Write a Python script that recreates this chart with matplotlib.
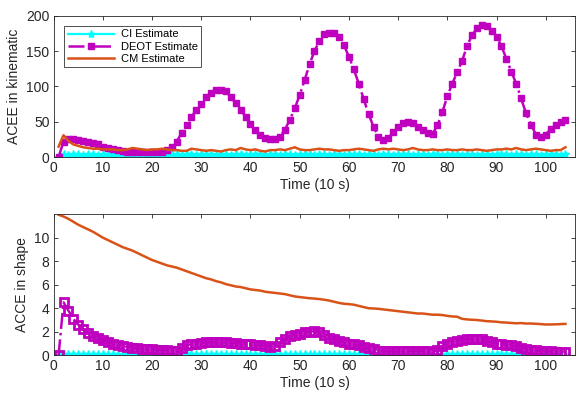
import numpy as np
import matplotlib
matplotlib.use("Agg")
import matplotlib.pyplot as plt

# time index (10 s steps)
t = np.arange(1, 105)

# --- ACEE in kinematic (top panel) ---
ci_kin = [0.5, 4, 3, 5, 4, 3, 4, 5, 3, 4, 4, 3, 5, 4, 3, 4, 5, 4, 3, 4,
          4, 5, 3, 4, 4, 3, 5, 4, 3, 4, 4, 5, 3, 4, 4, 3, 5, 4, 3, 4,
          4, 5, 3, 4, 4, 3, 5, 4, 3, 4, 4, 5, 3, 4, 4, 3, 5, 4, 3, 4,
          4, 5, 3, 4, 4, 3, 5, 4, 3, 4, 4, 5, 3, 4, 4, 3, 5, 4, 3, 4,
          4, 5, 3, 4, 4, 3, 5, 4, 3, 4, 4, 5, 3, 4, 4, 3, 5, 4, 3, 4,
          4, 5, 3, 4]
deot_kin = [0, 22, 25, 25, 24, 23, 22, 20, 18, 15, 13, 11, 10, 9, 8, 8, 7, 7, 7, 7,
            7, 8, 10, 14, 22, 34, 45, 57, 67, 75, 85, 91, 95, 95, 93, 85, 76, 67, 57, 47,
            39, 31, 27, 25, 25, 29, 39, 53, 69, 88, 109, 131, 150, 164, 174, 176, 176, 170, 158, 142,
            124, 104, 82, 61, 43, 29, 24, 27, 35, 42, 48, 50, 48, 43, 38, 34, 33, 45, 64, 86,
            104, 120, 136, 157, 172, 182, 187, 185, 179, 170, 157, 139, 121, 104, 83, 62, 46, 32, 28, 32,
            40, 45, 50, 52]
cm_kin = [15, 31, 23, 18, 16, 14, 13, 12, 12, 11, 11, 11, 10, 10, 11, 13, 12, 11, 10, 11,
          11, 12, 11, 10, 10, 9, 9, 12, 11, 10, 9, 10, 9, 8, 10, 11, 10, 13, 11, 10,
          11, 9, 8, 10, 10, 11, 10, 12, 14, 11, 10, 10, 11, 12, 11, 11, 10, 9, 10, 10,
          11, 12, 11, 10, 9, 11, 12, 11, 12, 11, 10, 11, 13, 11, 10, 10, 11, 10, 10, 11,
          10, 10, 11, 10, 10, 11, 10, 9, 10, 11, 11, 12, 11, 13, 11, 10, 11, 12, 11, 10,
          9, 10, 10, 14]

# --- ACCE in shape (bottom panel) ---
ci_shape = [0.02, 0.08, 0.07, 0.09, 0.08, 0.07, 0.08, 0.09, 0.07, 0.08, 0.08, 0.07, 0.09, 0.08, 0.07, 0.08, 0.09, 0.08, 0.07, 0.08,
            0.08, 0.09, 0.07, 0.08, 0.08, 0.07, 0.09, 0.08, 0.07, 0.08, 0.08, 0.09, 0.07, 0.08, 0.08, 0.07, 0.09, 0.08, 0.07, 0.08,
            0.08, 0.09, 0.07, 0.08, 0.08, 0.07, 0.09, 0.08, 0.07, 0.08, 0.08, 0.09, 0.07, 0.08, 0.08, 0.07, 0.09, 0.08, 0.07, 0.08,
            0.08, 0.09, 0.07, 0.08, 0.08, 0.07, 0.09, 0.08, 0.07, 0.08, 0.08, 0.09, 0.07, 0.08, 0.08, 0.07, 0.09, 0.08, 0.07, 0.08,
            0.08, 0.09, 0.07, 0.08, 0.08, 0.07, 0.09, 0.08, 0.07, 0.08, 0.08, 0.09, 0.07, 0.08, 0.08, 0.07, 0.09, 0.08, 0.07, 0.08,
            0.08, 0.09, 0.07, 0.08]
deot_shape = [0, 4.5, 3.8, 3.1, 2.6, 2.2, 1.9, 1.65, 1.45, 1.3, 1.15, 1.0, 0.9, 0.8, 0.72, 0.65, 0.6, 0.55, 0.52, 0.5,
              0.48, 0.46, 0.44, 0.4, 0.38, 0.6, 0.85, 0.95, 1.0, 1.05, 1.1, 1.1, 1.1, 1.1, 1.1, 1.05, 1.05, 1.0, 1.0, 0.95,
              0.9, 0.85, 0.8, 0.73, 0.8, 1.1, 1.4, 1.6, 1.75, 1.85, 1.95, 2.0, 2.05, 2.0, 1.7, 1.45, 1.35, 1.25, 1.1, 1.0,
              0.95, 0.85, 0.7, 0.6, 0.5, 0.4, 0.35, 0.35, 0.33, 0.33, 0.35, 0.36, 0.37, 0.38, 0.37, 0.33, 0.25, 0.45, 0.8, 1.0,
              1.12, 1.2, 1.3, 1.35, 1.4, 1.4, 1.35, 1.2, 1.1, 1.0, 0.95, 0.9, 0.85, 0.75, 0.65, 0.55, 0.48, 0.42, 0.38, 0.36,
              0.33, 0.32, 0.32, 0.32]
cm_shape = [11.95, 11.8, 11.6, 11.35, 11.1, 10.9, 10.7, 10.5, 10.25, 10.0, 9.8, 9.6, 9.4, 9.2, 9.05, 8.9, 8.7, 8.5, 8.3, 8.1,
            7.95, 7.8, 7.65, 7.55, 7.45, 7.3, 7.15, 7.0, 6.85, 6.7, 6.55, 6.45, 6.3, 6.2, 6.05, 5.95, 5.85, 5.8, 5.7, 5.6,
            5.55, 5.5, 5.4, 5.35, 5.3, 5.25, 5.2, 5.1, 5.0, 4.95, 4.9, 4.85, 4.82, 4.78, 4.72, 4.65, 4.55, 4.45, 4.38, 4.35,
            4.3, 4.2, 4.1, 4.0, 3.98, 3.95, 3.9, 3.85, 3.8, 3.75, 3.7, 3.65, 3.6, 3.55, 3.55, 3.5, 3.45, 3.45, 3.42, 3.35,
            3.3, 3.28, 3.1, 3.05, 3.02, 3.0, 2.95, 2.9, 2.88, 2.85, 2.8, 2.78, 2.75, 2.72, 2.74, 2.7, 2.7, 2.68, 2.65, 2.62,
            2.62, 2.63, 2.65, 2.67]

cyan = "#00FFFF"
magenta = "#BF00BF"
orange = "#D95319"
axcol = "#262626"

plt.rcParams["font.family"] = ["Liberation Sans", "DejaVu Sans"]

fig = plt.figure(figsize=(5.77, 4.01), dpi=100)
ax1 = fig.add_axes([0.093, 0.608, 0.904, 0.353])
ax2 = fig.add_axes([0.093, 0.114, 0.904, 0.352])

ax1.plot(t, ci_kin, color=cyan, lw=1.6, marker="*", ms=6, label="CI Estimate")
ax1.plot(t, deot_kin, color=magenta, lw=1.8, ls="-.", marker="s", ms=5, label="DEOT Estimate")
ax1.plot(t, cm_kin, color=orange, lw=1.8, label="CM Estimate")

ax2.plot(t, ci_shape, color=cyan, lw=1.6, marker="*", ms=6)
ax2.plot(t, deot_shape, color=magenta, lw=1.8, ls="-.", marker="s", ms=5.5, mfc="none", mew=2)
ax2.plot(t, cm_shape, color=orange, lw=1.8)

ax1.set_ylim(0, 200)
ax1.set_yticks([0, 50, 100, 150, 200])
ax1.set_ylabel("ACEE in kinematic", fontsize=10, color=axcol)
ax2.set_ylim(0, 12)
ax2.set_yticks([0, 2, 4, 6, 8, 10])
ax2.set_ylabel("ACCE in shape", fontsize=10, color=axcol)

for ax in (ax1, ax2):
    ax.set_xlim(0, 106)
    ax.set_xticks(range(0, 101, 10))
    ax.set_xlabel("Time (10 s)", fontsize=10, color=axcol, labelpad=2)
    ax.tick_params(direction="in", top=True, right=True, labelsize=10,
                   colors=axcol, length=3, width=0.6, pad=3)
    for s in ax.spines.values():
        s.set_color(axcol)
        s.set_linewidth(0.6)

leg = ax1.legend(loc="upper left", fontsize=8, frameon=True, fancybox=False,
                 edgecolor="black", borderpad=0.3, labelspacing=0.2,
                 handlelength=4.2, handletextpad=0.6, bbox_to_anchor=(0.01, 0.965))
leg.get_frame().set_linewidth(0.6)

fig.savefig("out.png", dpi=100)
